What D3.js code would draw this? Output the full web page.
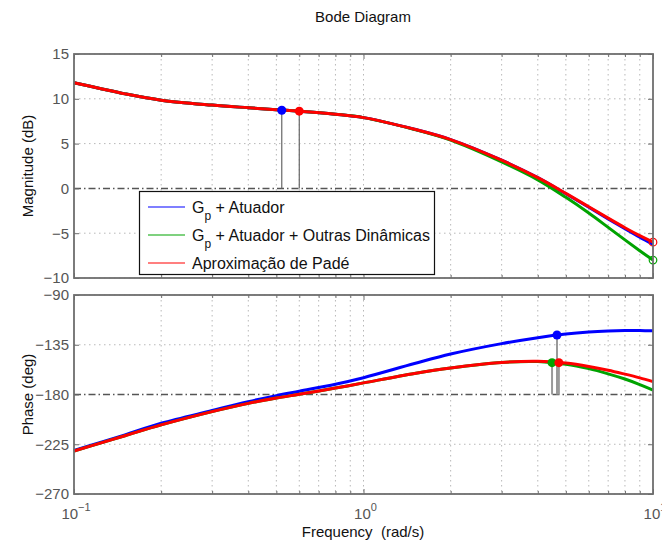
<!DOCTYPE html>
<html><head><meta charset="utf-8">
<script src="https://cdn.jsdelivr.net/npm/d3@7"></script>
<style>
body{margin:0;background:#fff;}
svg{font-family:"Liberation Sans",Arial,sans-serif;}
</style></head>
<body><svg id="c" width="662" height="544"></svg>
<script>
// ---- data ----
const freq     = [0.1, 0.125, 0.15, 0.2, 0.3, 0.4, 0.5, 0.6, 0.8, 1, 1.5, 2, 3, 4, 5, 6, 7, 8, 9, 10];
const magBlue  = [11.8, 11.1, 10.55, 9.85, 9.3, 9.0, 8.78, 8.62, 8.28, 7.9, 6.6, 5.45, 3.15, 1.2, -0.6, -2.1, -3.4, -4.5, -5.45, -6.25];
const magGreen = [11.8, 11.1, 10.55, 9.85, 9.3, 9.0, 8.78, 8.62, 8.28, 7.9, 6.57, 5.38, 2.95, 0.95, -1.0, -2.75, -4.35, -5.75, -6.95, -8.0];
const magRed   = [11.8, 11.1, 10.55, 9.85, 9.3, 9.0, 8.78, 8.62, 8.28, 7.9, 6.6, 5.45, 3.15, 1.2, -0.55, -2.05, -3.32, -4.39, -5.28, -6.0];
const phBlue   = [-230.5, -223, -216.5, -206, -194.5, -186.5, -181, -177, -170.7, -164.8, -152, -143.4, -134, -128.6, -125.3, -123.5, -122.6, -122.2, -122.2, -122.4];
const phGreen  = [-231.1, -223.5, -217.3, -207.5, -195.5, -188, -183.2, -179.8, -174.2, -169.5, -161, -156, -151, -150.2, -152.6, -156.6, -161.3, -166, -171, -176];
const phRed    = [-231.1, -223.5, -217.3, -207.5, -195.5, -188, -183.2, -179.8, -174.2, -169.5, -161, -156, -151, -149.9, -151.6, -154.6, -158, -161.6, -165, -168.4];
const magTicks   = [15, 10, 5, 0, -5, -10];
const phaseTicks = [-90, -135, -180, -225, -270];
const decadeTicks = [0.1, 1, 10];
const decadeLabels = [["10","\u22121"], ["10","0"], ["10","1"]];
const minorTicks = [0.2,0.3,0.4,0.5,0.6,0.7,0.8,0.9,2,3,4,5,6,7,8,9];
// margin markers
const gmFreq = [0.522, 0.6];          // blue, red (magnitude at -180 deg crossing)
const gmMag  = [8.72, 8.62];
const gmCol  = ["blue", "red"];
const pmFreq = [4.48, 4.66, 4.73];    // green, blue, red (phase at 0 dB crossing)
const pmPh   = [-151.2, -126.2, -151.2];
const pmCol  = ["green", "blue", "red"];
const endFreq = [10, 10];
const endMag  = [-6.0, -8.0];
const endCol  = ["red", "green"];
const legendLabels = [["G","p"," + Atuador"], ["G","p"," + Atuador + Outras Din\u00e2micas"], ["Aproxima\u00e7\u00e3o de Pad\u00e9","",""]];
const legendCols = ["blue","green","red"];

const colors = {blue:"#0000ff", green:"#00a300", red:"#ff0000"};

// ---- chart ----
const svg = d3.select("#c");
const x = d3.scaleLog().domain([0.1, 10]).range([74, 653]);
const yM = d3.scaleLinear().domain([-10, 15]).range([278, 54]);
const yP = d3.scaleLinear().domain([-270, -90]).range([494, 295]);
const fmt = v => (v < 0 ? "\u2212" + Math.abs(v) : "" + v);
const frameCol = "#6e6e6e";

function panel(y, ticks, refVal) {
  const g = svg.append("g");
  const [y0, y1] = y.range();
  g.selectAll(".gx").data(minorTicks.concat([1])).join("line")
    .attr("x1", d => x(d)).attr("x2", d => x(d)).attr("y1", y1).attr("y2", y0)
    .attr("stroke", "#b8b8b8").attr("stroke-width", 1).attr("stroke-dasharray", "1.5,3.5");
  g.selectAll(".gy").data(ticks.filter(t => t !== refVal)).join("line")
    .attr("x1", 74).attr("x2", 653).attr("y1", d => y(d)).attr("y2", d => y(d))
    .attr("stroke", "#b8b8b8").attr("stroke-width", 1).attr("stroke-dasharray", "1.5,3.5");
  g.append("line").attr("x1", 74).attr("x2", 653).attr("y1", y(refVal)).attr("y2", y(refVal))
    .attr("stroke", "#555").attr("stroke-width", 1.5).attr("stroke-dasharray", "7,3,1.5,3");
  const axL = g.append("g").attr("transform", "translate(74,0)")
    .call(d3.axisLeft(y).tickValues(ticks).tickSize(-5).tickPadding(5).tickFormat(fmt));
  const axR = g.append("g").attr("transform", "translate(653,0)")
    .call(d3.axisRight(y).tickValues(ticks).tickSize(-5).tickFormat(""));
  const axB = g.append("g").attr("transform", `translate(0,${y0})`)
    .call(d3.axisBottom(x).tickValues(decadeTicks).tickSize(-5).tickFormat(""));
  const axBm = g.append("g").attr("transform", `translate(0,${y0})`)
    .call(d3.axisBottom(x).tickValues(minorTicks).tickSize(-3).tickFormat(""));
  const axT = g.append("g").attr("transform", `translate(0,${y1})`)
    .call(d3.axisTop(x).tickValues(decadeTicks).tickSize(-5).tickFormat(""));
  const axTm = g.append("g").attr("transform", `translate(0,${y1})`)
    .call(d3.axisTop(x).tickValues(minorTicks).tickSize(-3).tickFormat(""));
  [axL, axR, axB, axBm, axT, axTm].forEach(a => {
    a.select(".domain").remove();
    a.selectAll(".tick line").attr("stroke", frameCol).attr("stroke-width", 1);
  });
  axL.selectAll(".tick text").attr("fill", "#555").attr("font-size", 15)
    .attr("font-family", "Liberation Sans, Arial, sans-serif");
  return g;
}

const gM = panel(yM, magTicks, 0);
const gP = panel(yP, phaseTicks, -180);

gM.selectAll(".stem").data(gmFreq).join("line")
  .attr("x1", d => x(d)).attr("x2", d => x(d))
  .attr("y1", (d, i) => yM(gmMag[i])).attr("y2", yM(0))
  .attr("stroke", "#666").attr("stroke-width", 1.2);
gP.selectAll(".stem").data(pmFreq).join("line")
  .attr("x1", d => x(d)).attr("x2", d => x(d))
  .attr("y1", (d, i) => yP(pmPh[i])).attr("y2", yP(-180))
  .attr("stroke", "#9a9a9a").attr("stroke-width", 2);

function curve(g, y, vals, col) {
  const line = d3.line().x((d, i) => x(freq[i])).y(d => y(d)).curve(d3.curveCatmullRom.alpha(0.5));
  g.append("path").attr("d", line(vals)).attr("fill", "none")
    .attr("stroke", colors[col]).attr("stroke-width", 3).attr("stroke-linejoin", "round");
}
curve(gM, yM, magBlue, "blue");
curve(gM, yM, magGreen, "green");
curve(gM, yM, magRed, "red");
curve(gP, yP, phBlue, "blue");
curve(gP, yP, phGreen, "green");
curve(gP, yP, phRed, "red");

gM.selectAll(".dot").data(gmFreq).join("circle")
  .attr("cx", d => x(d)).attr("cy", (d, i) => yM(gmMag[i])).attr("r", 4.5)
  .attr("fill", (d, i) => colors[gmCol[i]]);
gP.selectAll(".dot").data(pmFreq).join("circle")
  .attr("cx", d => x(d)).attr("cy", (d, i) => yP(pmPh[i])).attr("r", 4.5)
  .attr("fill", (d, i) => colors[pmCol[i]]);
gM.selectAll(".end").data(endFreq).join("circle")
  .attr("cx", d => x(d)).attr("cy", (d, i) => yM(endMag[i])).attr("r", 3.8)
  .attr("fill", "none").attr("stroke", (d, i) => colors[endCol[i]]).attr("stroke-width", 1.2);

[yM, yP].forEach(y => {
  const [y0, y1] = y.range();
  svg.append("rect").attr("x", 74).attr("y", y1).attr("width", 653 - 74).attr("height", y0 - y1)
    .attr("fill", "none").attr("stroke", frameCol).attr("stroke-width", 1.8);
});

decadeTicks.forEach((d, i) => {
  const t = svg.append("text").attr("x", x(d) + 2).attr("y", 519).attr("fill", "#555")
    .attr("font-size", 15).attr("text-anchor", "middle");
  t.append("tspan").text(decadeLabels[i][0]);
  t.append("tspan").attr("dy", -8).attr("font-size", 11).text(decadeLabels[i][1]);
});

svg.append("text").attr("x", 363).attr("y", 22).attr("text-anchor", "middle")
  .attr("font-size", 15).attr("fill", "#111").text("Bode Diagram");
svg.append("text").attr("x", 363).attr("y", 537).attr("text-anchor", "middle")
  .attr("font-size", 15).attr("fill", "#111").attr("xml:space", "preserve").text("Frequency  (rad/s)");
svg.append("text").attr("transform", `translate(33,${(54 + 278) / 2}) rotate(-90)`)
  .attr("text-anchor", "middle").attr("font-size", 15).attr("fill", "#111").text("Magnitude (dB)");
svg.append("text").attr("transform", `translate(33,${(295 + 494) / 2}) rotate(-90)`)
  .attr("text-anchor", "middle").attr("font-size", 15).attr("fill", "#111").text("Phase (deg)");

const lg = svg.append("g");
lg.append("rect").attr("x", 139.5).attr("y", 191.5).attr("width", 295).attr("height", 83)
  .attr("fill", "#fff").attr("stroke", "#111").attr("stroke-width", 1.2);
const rowY = [207, 235, 263];
legendLabels.forEach((lab, i) => {
  lg.append("line").attr("x1", 148).attr("x2", 185).attr("y1", rowY[i]).attr("y2", rowY[i])
    .attr("stroke", colors[legendCols[i]]).attr("stroke-width", 1.2);
  const t = lg.append("text").attr("x", 192).attr("y", rowY[i] + 5.5).attr("font-size", 16)
    .attr("fill", "#111").attr("xml:space", "preserve");
  t.append("tspan").text(lab[0]);
  if (lab[1]) {
    t.append("tspan").attr("dy", 7).attr("font-size", 12).text(lab[1]);
    t.append("tspan").attr("dy", -7).text(lab[2]);
  }
});
</script></body></html>
